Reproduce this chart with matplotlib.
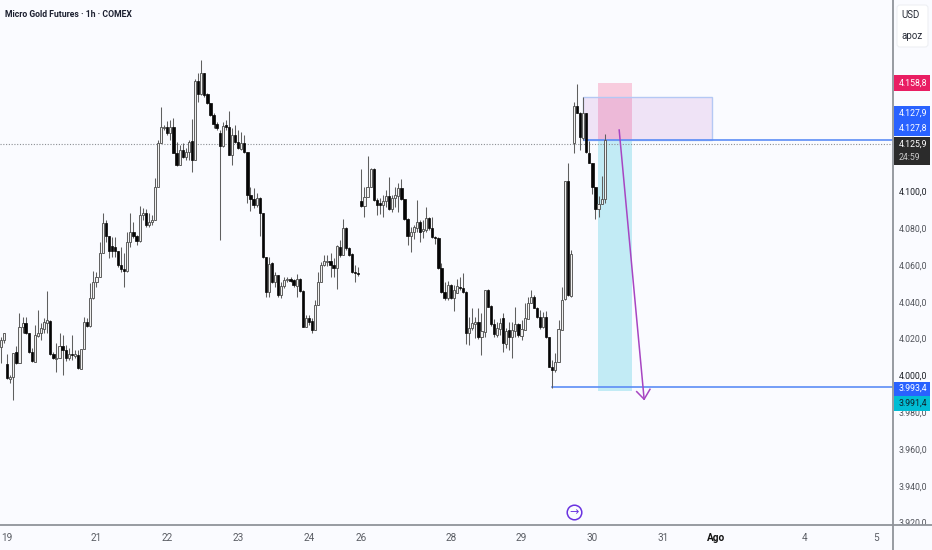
import matplotlib
matplotlib.use("Agg")
import matplotlib.pyplot as plt
from matplotlib.patches import Rectangle, FancyBboxPatch
from matplotlib.transforms import Bbox

FONT = ["Roboto", "DejaVu Sans"]
plt.rcParams["font.family"] = FONT

opens = [4015.6,4019.2,4006.1,3997.8,3999.3,4012.9,4006.5,4026.4,4028.6,4022.8,4012.5,4007.4,4021.5,4022.8,4025.0,4028.6,
4029.7,4011.6,4008.7,4009.4,4015.9,4013.8,4009.2,4011.6,4010.5,4011.0,4003.5,4014.3,4029.2,4027.0,4042.0,4050.9,
4053.6,4066.3,4083.0,4075.9,4070.3,4069.9,4067.4,4060.0,4057.6,4056.9,4072.6,4078.1,4075.7,4072.8,4087.1,4088.4,
4081.7,4083.5,4084.4,4102.2,4126.1,4134.2,4134.8,4131.5,4135.1,4120.6,4114.3,4122.5,4118.8,4121.5,4127.5,4117.0,
4160.1,4152.9,4164.5,4152.9,4147.8,4141.5,4136.6,4131.9,4124.8,4136.0,4134.8,4119.7,4130.6,4127.0,4123.2,4126.4,
4121.2,4098.0,4095.6,4092.6,4096.2,4088.4,4064.1,4045.5,4060.9,4050.9,4054.5,4043.6,4048.5,4051.8,4052.2,4051.8,
4048.5,4052.2,4046.0,4026.4,4031.0,4029.5,4024.6,4038.2,4050.9,4060.0,4061.6,4062.3,4060.0,4058.2,4069.9,4065.4,
4079.9,4069.0,4065.9,4056.3,4055.8,4094.7,4092.0,4096.7,4102.5,4112.1,4095.3,4093.5,4092.4,4094.7,4097.5,4090.4,
4096.2,4097.5,4102.0,4095.7,4084.8,4075.9,4078.1,4079.9,4083.5,4078.4,4079.0,4085.3,4079.9,4075.0,4074.5,4058.2,
4045.1,4041.8,4049.1,4041.8,4044.9,4048.2,4047.3,4045.5,4022.8,4025.5,4027.9,4029.2,4021.0,4023.7,4046.4,4037.7,
4027.9,4021.9,4025.0,4031.3,4017.0,4024.6,4021.0,4024.3,4027.9,4021.6,4024.6,4030.6,4039.5,4042.4,4036.8,4031.5,
4026.4,4031.5,4021.0,4004.7,4002.9,4007.4,4024.6,4041.3,4105.6,4043.3,4126.4,4146.3,4142.3,4128.8,4142.3,4121.0,
4115.5,4102.1,4090.5,4093.1,4095.6]
highs = [4021.0,4023.2,4011.6,4000.2,4012.3,4016.0,4033.7,4031.9,4031.9,4022.8,4014.7,4027.3,4035.5,4028.2,4031.0,4045.8,
4030.1,4012.9,4017.4,4023.2,4021.9,4016.5,4014.7,4021.9,4013.8,4013.8,4014.3,4031.9,4031.0,4050.0,4056.9,4056.3,
4072.6,4088.0,4084.4,4075.9,4075.0,4075.0,4067.4,4069.9,4066.3,4078.1,4088.0,4083.5,4076.2,4092.0,4090.7,4090.2,
4088.0,4087.1,4107.1,4127.9,4146.0,4136.0,4138.4,4138.8,4139.7,4127.0,4125.2,4126.1,4123.4,4127.9,4139.3,4160.9,
4164.1,4171.4,4164.5,4153.6,4148.2,4142.4,4137.9,4133.3,4137.9,4138.8,4143.8,4134.2,4136.0,4133.3,4132.4,4130.6,
4121.5,4102.5,4101.6,4098.9,4097.1,4088.4,4064.5,4064.5,4061.8,4056.3,4054.5,4050.9,4053.2,4053.2,4053.6,4052.2,
4055.1,4052.7,4046.4,4032.8,4032.8,4031.0,4040.9,4056.3,4061.8,4065.4,4065.4,4066.3,4063.6,4070.8,4073.6,4084.8,
4080.4,4069.6,4066.3,4060.0,4059.0,4112.0,4102.5,4119.4,4112.5,4112.5,4096.2,4096.2,4098.0,4100.7,4108.0,4098.0,
4102.5,4104.3,4106.5,4096.0,4085.7,4080.8,4081.7,4095.3,4084.4,4084.4,4091.7,4085.9,4085.9,4075.7,4075.0,4060.9,
4050.9,4051.4,4049.6,4049.1,4052.2,4053.6,4055.4,4046.0,4031.9,4036.8,4031.9,4036.4,4033.7,4046.4,4046.7,4038.2,
4030.4,4029.2,4031.0,4033.7,4025.5,4029.2,4029.2,4037.0,4028.6,4030.1,4039.1,4042.8,4046.4,4043.7,4037.3,4035.5,
4034.6,4035.1,4021.0,4008.3,4012.0,4030.1,4048.2,4105.6,4115.2,4068.1,4148.3,4158.3,4143.2,4151.4,4142.7,4127.3,
4115.5,4102.5,4097.4,4108.3,4131.1]
lows = [4006.5,4017.4,3997.8,3995.6,3986.6,4006.0,4006.5,4022.8,4022.5,4011.9,4007.4,4007.4,4021.0,4019.2,4022.8,4022.8,
4011.0,4008.7,4002.0,4009.2,4000.2,4008.0,4008.3,4008.3,4009.2,4003.2,4003.2,4014.3,4026.4,4026.4,4041.7,4048.2,
4053.6,4066.3,4072.6,4063.6,4064.5,4064.5,4059.0,4056.3,4048.2,4056.3,4069.9,4074.4,4070.8,4072.6,4084.4,4080.8,
4080.8,4081.7,4084.4,4102.2,4126.1,4133.3,4130.6,4127.9,4120.6,4113.8,4114.3,4117.9,4117.0,4117.0,4110.7,4117.0,
4148.7,4152.3,4151.4,4147.5,4140.9,4134.2,4133.3,4073.5,4124.3,4133.3,4119.5,4114.3,4126.4,4122.8,4122.5,4120.6,
4093.5,4089.5,4090.7,4091.7,4075.7,4063.6,4042.4,4042.4,4050.0,4048.2,4042.7,4041.8,4047.3,4050.9,4050.9,4048.2,
4042.7,4045.5,4026.0,4026.4,4027.3,4023.2,4024.6,4038.2,4050.9,4059.4,4059.4,4053.6,4053.6,4046.9,4064.5,4065.4,
4068.1,4064.9,4055.8,4050.9,4054.0,4091.7,4085.9,4096.7,4102.5,4094.9,4087.1,4087.7,4086.2,4091.7,4089.9,4089.0,
4091.7,4089.0,4095.3,4084.4,4070.8,4067.2,4073.9,4078.1,4072.6,4074.5,4078.1,4079.0,4074.5,4071.4,4058.0,4044.6,
4040.9,4040.9,4041.3,4035.1,4044.6,4046.4,4044.6,4017.0,4016.5,4024.6,4020.1,4019.6,4011.1,4021.0,4036.9,4026.8,
4021.0,4021.0,4021.9,4012.9,4014.7,4013.8,4009.2,4021.0,4021.0,4019.2,4024.6,4030.4,4039.1,4036.4,4031.0,4025.0,
4025.5,4020.3,4004.3,3992.9,4002.0,4007.4,4024.6,4040.9,4043.3,4042.8,4121.0,4142.3,4122.4,4127.9,4120.6,4115.2,
4098.5,4084.9,4086.2,4092.9,4093.8]
closes = [4019.2,4022.8,3998.4,3999.3,4012.3,4006.5,4026.4,4028.6,4022.8,4012.5,4007.8,4021.9,4022.8,4025.5,4029.2,4030.1,
4011.6,4009.4,4009.4,4015.9,4013.8,4009.2,4011.6,4010.9,4011.6,4003.8,4014.3,4029.2,4027.0,4042.2,4050.9,4053.6,
4066.3,4083.0,4075.9,4067.4,4067.4,4067.4,4060.0,4057.6,4056.9,4072.6,4078.1,4075.7,4072.8,4087.1,4088.4,4081.7,
4083.5,4084.4,4102.2,4126.1,4134.8,4134.8,4131.5,4135.1,4120.6,4114.3,4122.5,4118.8,4121.5,4127.0,4117.0,4160.1,
4152.9,4164.5,4152.3,4147.8,4141.5,4136.6,4134.4,4124.8,4135.5,4134.8,4119.7,4130.6,4127.0,4123.7,4126.4,4121.2,
4098.0,4095.6,4092.6,4096.2,4088.4,4064.1,4045.5,4060.5,4050.9,4054.5,4043.6,4048.5,4051.8,4052.2,4051.4,4049.1,
4052.2,4046.0,4026.4,4031.3,4029.2,4024.6,4038.2,4050.9,4060.0,4062.3,4062.3,4060.0,4058.2,4070.3,4065.4,4079.9,
4069.0,4065.4,4056.3,4055.8,4055.3,4092.2,4096.7,4102.5,4112.1,4095.3,4092.6,4092.4,4094.7,4097.5,4090.4,4096.2,
4098.0,4101.6,4095.7,4084.8,4075.9,4078.1,4080.4,4083.5,4078.1,4079.3,4085.3,4079.9,4075.0,4074.5,4058.2,4045.1,
4041.8,4049.1,4041.8,4046.4,4048.5,4047.3,4045.5,4023.2,4025.5,4028.3,4029.2,4021.0,4024.3,4046.4,4037.3,4027.9,
4022.5,4025.5,4028.3,4017.4,4024.3,4021.0,4024.6,4027.9,4021.9,4025.0,4031.0,4039.5,4042.4,4036.8,4031.5,4026.1,
4031.5,4020.6,4004.7,4002.9,4007.4,4025.0,4040.9,4105.6,4043.7,4065.8,4146.3,4142.3,4129.7,4142.3,4121.5,4115.5,
4102.1,4090.2,4093.1,4095.6,4127.9]

price_ticks = [3920, 3940, 3960, 3980, 4000, 4020, 4040, 4060, 4080, 4100]
price_labels = ["3.920,0", "3.940,0", "3.960,0", "3.980,0", "4.000,0", "4.020,0",
                "4.040,0", "4.060,0", "4.080,0", "4.100,0"]
date_ticks = [2, 31, 54, 77, 100, 117, 146, 169, 192, 215, 232, 261, 284]
date_labels = ["19", "21", "22", "23", "24", "26", "28", "29", "30", "31", "Ago", "4", "5"]

last_price = 4125.9
entry = 4127.9
stop = 4158.8
target = 3991.4
low_line = 3993.4
zone_top = 4151.4

BG = "#fafbff"
fig = plt.figure(figsize=(9.32, 5.5), dpi=100, facecolor=BG)
ax = fig.add_axes([0, 25 / 550, 893 / 932, 525 / 550], facecolor=BG)
ax.set_xlim(-0.325, 289.6)
ax.set_ylim(4000 + (375.3 - 525) / 1.84, 4000 + 375.3 / 1.84)
for s in ax.spines.values():
    s.set_visible(False)

# position tool and zone
ax.add_patch(Rectangle((193.8, entry), 11.1, stop - entry, fc="#f23a78", alpha=0.24, lw=0, zorder=1))
ax.add_patch(Rectangle((193.8, target), 11.1, entry - target, fc="#22bfd9", alpha=0.26, lw=0, zorder=1))
ax.add_patch(Rectangle((189, entry), 41.8, zone_top - entry, fc="#9c27b0", alpha=0.11, lw=0, zorder=1))
ax.add_patch(Rectangle((189, entry), 41.8, zone_top - entry, fc="none", ec="#b4c8f4", lw=1, zorder=1.5))

ax.axhline(last_price, color="#8c8f94", lw=0.8, ls=(0, (1, 1.5)), zorder=1.6)
ax.plot([189.3, 289.6], [entry, entry], color="#5c8df6", lw=1.2, zorder=1.7)
ax.plot([178.9, 289.6], [low_line, low_line], color="#5c8df6", lw=1.2, zorder=1.7)

# candles
xs = list(range(len(opens)))
ax.vlines(xs, lows, highs, color="#5f5f5f", lw=0.75, zorder=2)
for i, (o, c) in enumerate(zip(opens, closes)):
    if c >= o:
        ax.bar(i, max(c - o, 0.4), bottom=o, width=0.68, fc="#f0f0f0", ec="#555555", lw=0.65, zorder=3)
    else:
        ax.bar(i, o - c, bottom=c, width=0.75, fc="#050505", ec="#050505", lw=0.5, zorder=3)

# arrow
ax.plot([200.7, 208.8], [4133.3, 3987.0], color="#a745c2", lw=1.1, zorder=4)
ax.plot([206.4, 208.8, 210.7], [3991.1, 3987.0, 3992.4], color="#a745c2", lw=1.1, zorder=4)

# session marker
ax.plot([186], [3925.7], marker="o", ms=10.5, mfc="none", mec="#6a32e0", mew=1.1, zorder=4, clip_on=False)
ax.text(186, 3925.7, "→", color="#6a32e0", fontsize=8, ha="center", va="center",
        family="DejaVu Sans", zorder=4)

# axes
ax.yaxis.tick_right()
ax.set_yticks(price_ticks)
ax.set_yticklabels(price_labels, fontsize=6.3, color="#50535a")
ax.set_xticks(date_ticks)
ax.set_xticklabels(date_labels, fontsize=7.2, color="#5a5d64")
ax.tick_params(axis="y", length=0, pad=4.2)
ax.tick_params(axis="x", length=0, pad=5.5)
for t in ax.get_yticklabels():
    t.set_clip_on(True)
    t.set_clip_box(Bbox([[0, 25], [932, 550]]))
    if t.get_text() in ("4.000,0", "4.100,0"):
        t.set_color("#1c1f26")
for t in ax.get_xticklabels():
    if t.get_text() == "Ago":
        t.set_color("#111111")
        t.set_fontweight("bold")

# chart chrome in pixel space
ov = fig.add_axes([0, 0, 1, 1], facecolor="none")
ov.set_xlim(0, 932)
ov.set_ylim(550, 0)
ov.axis("off")
ov.plot([893, 893], [0, 550], color="#8f939a", lw=1.3)
ov.plot([0, 932], [525, 525], color="#8f939a", lw=1.3)

ov.text(5, 14.5, "Micro Gold Futures · 1h · COMEX", fontsize=6.2, color="#1c2030",
        va="center", ha="left", fontweight="bold")

ov.add_patch(FancyBboxPatch((897, 5), 31, 42, boxstyle="round,pad=0,rounding_size=3",
                            fc="#ffffff", ec="#eef0f4", lw=0.8))
ov.text(901, 15, "USD", fontsize=7, color="#2a2e39", ha="left", va="center")
ov.text(901, 36, "apoz", fontsize=7, color="#2a2e39", ha="left", va="center")

tags = [
    (75, 90.5, "#e91e63"),
    (106, 136, "#2962ff"),
    (137, 165, "#2b2b2b"),
    (382, 395.5, "#2962ff"),
    (396, 411, "#00bcd4"),
]
for top, bot, col in tags:
    ov.add_patch(Rectangle((893.5, top), 36, bot - top, fc=col, lw=0))
tag_text = [
    (83, "4.158,8", "#ffffff"),
    (113.5, "4.127,9", "#ffffff"),
    (128, "4.127,8", "#ffffff"),
    (144.5, "4.125,9", "#ffffff"),
    (157, "24:59", "#c8c8c8"),
    (388.5, "3.993,4", "#ffffff"),
    (403, "3.991,4", "#10202a"),
]
for y, s, col in tag_text:
    ov.text(898.8, y, s, fontsize=6.3, color=col, ha="left", va="center")

fig.savefig("out.png", dpi=100, facecolor=BG)
